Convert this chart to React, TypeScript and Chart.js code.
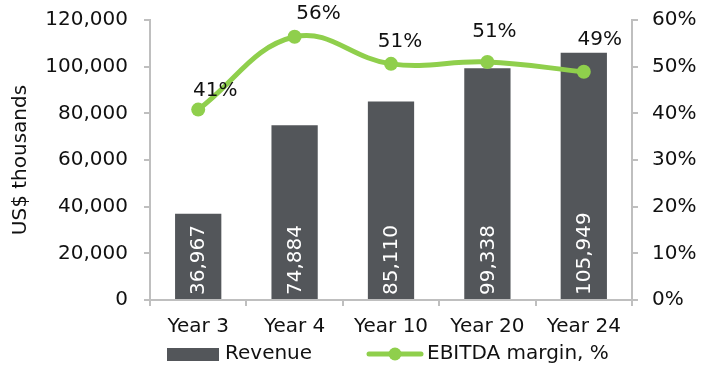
import React, { useEffect, useRef } from "react";
import { Chart, registerables } from "chart.js";

Chart.register(...registerables);

const categories = ["Year 3", "Year 4", "Year 10", "Year 20", "Year 24"];
const revenue = [36967, 74884, 85110, 99338, 105949];
const ebitdaMargin = [40.8, 56.4, 50.6, 51.0, 48.9];
const revenueTicks = [0, 20000, 40000, 60000, 80000, 100000, 120000];
const marginTicks = [0, 10, 20, 30, 40, 50, 60];

const FONT = "'DejaVu Sans', Verdana, sans-serif";
const SIZE = 20;
const BAR = "#53565a";
const GREEN = "#8fcf4c";
const AXIS = "#bfbfbf";
const TEXT = "#111111";

// hand-placed nudges (dx, dy) for the margin labels, relative to each point
const MARGIN_LABEL_NUDGE: [number, number][] = [
  [17, -19],
  [24, -23],
  [9, -22],
  [7, -30],
  [16, -32],
];

const labelsPlugin = {
  id: "valueLabels",
  afterDatasetsDraw(chart: any) {
    const ctx = chart.ctx;
    ctx.save();
    ctx.font = `${SIZE}px ${FONT}`;
    // revenue values, rotated inside each bar
    const barMeta = chart.getDatasetMeta(0);
    barMeta.data.forEach((el: any, i: number) => {
      ctx.save();
      ctx.translate(el.x, el.base - 4);
      ctx.rotate(-Math.PI / 2);
      ctx.fillStyle = "#ffffff";
      ctx.textAlign = "left";
      ctx.textBaseline = "middle";
      ctx.fillText(revenue[i].toLocaleString("en-US"), 0, 1);
      ctx.restore();
    });
    // margin labels above each point
    const lineMeta = chart.getDatasetMeta(1);
    lineMeta.data.forEach((el: any, i: number) => {
      const [dx, dy] = MARGIN_LABEL_NUDGE[i] || [15, -21];
      ctx.fillStyle = TEXT;
      ctx.textAlign = "center";
      ctx.textBaseline = "middle";
      ctx.fillText(`${Math.round(ebitdaMargin[i])}%`, el.x + dx, el.y + dy);
    });
    ctx.restore();
  },
};

const legendPlugin = {
  id: "bottomLegend",
  afterDraw(chart: any) {
    const ctx = chart.ctx;
    const y = 354;
    ctx.save();
    ctx.fillStyle = BAR;
    ctx.fillRect(167, y - 6, 52, 13);
    ctx.font = `${SIZE}px ${FONT}`;
    ctx.fillStyle = TEXT;
    ctx.textAlign = "left";
    ctx.textBaseline = "middle";
    ctx.fillText("Revenue", 225, y);
    ctx.strokeStyle = GREEN;
    ctx.lineWidth = 5;
    ctx.lineCap = "round";
    ctx.beginPath();
    ctx.moveTo(369, y);
    ctx.lineTo(421, y);
    ctx.stroke();
    ctx.fillStyle = GREEN;
    ctx.beginPath();
    ctx.arc(395, y, 6.5, 0, Math.PI * 2);
    ctx.fill();
    ctx.fillStyle = TEXT;
    ctx.fillText("EBITDA margin, %", 427, y);
    ctx.restore();
  },
};

export default function App() {
  const ref = useRef<HTMLCanvasElement>(null);

  useEffect(() => {
    document.body.style.margin = "0";
    const canvas = ref.current;
    if (!canvas) return;
    const chart = new Chart(canvas, {
      data: {
        labels: categories,
        datasets: [
          {
            type: "bar",
            label: "Revenue",
            data: revenue,
            backgroundColor: BAR,
            categoryPercentage: 1,
            barPercentage: 0.48,
            yAxisID: "y",
            order: 2,
          },
          {
            type: "line",
            label: "EBITDA margin, %",
            data: ebitdaMargin,
            borderColor: GREEN,
            backgroundColor: GREEN,
            borderWidth: 5,
            pointRadius: 7,
            pointHoverRadius: 7,
            pointBorderWidth: 0,
            tension: 0.4,
            yAxisID: "y1",
            order: 1,
          },
        ],
      } as any,
      options: {
        animation: false,
        responsive: false,
        maintainAspectRatio: false,
        layout: { autoPadding: false, padding: { top: 20, bottom: 25, left: 0, right: 0 } },
        plugins: {
          legend: { display: false },
          tooltip: { enabled: false },
        },
        scales: {
          x: {
            offset: true,
            grid: {
              offset: true,
              drawOnChartArea: false,
              drawTicks: true,
              tickLength: 6,
              color: AXIS,
              lineWidth: 2,
            },
            border: { color: AXIS, width: 2 },
            ticks: { color: TEXT, font: { family: FONT, size: SIZE }, padding: 9, maxRotation: 0 },
            afterFit: (s: any) => {
              s.height = 40;
            },
          },
          y: {
            position: "left",
            min: 0,
            max: 120000,
            afterBuildTicks: (s: any) => {
              s.ticks = revenueTicks.map((v) => ({ value: v }));
            },
            grid: { drawOnChartArea: false, tickLength: 6, color: AXIS, lineWidth: 2 },
            border: { color: AXIS, width: 2 },
            ticks: {
              color: TEXT,
              font: { family: FONT, size: SIZE },
              padding: 16,
              callback: (v: any) => Number(v).toLocaleString("en-US"),
            },
            title: {
              display: true,
              text: "US$ thousands",
              color: TEXT,
              font: { family: FONT, size: SIZE },
              padding: { top: 9, bottom: 0 },
            },
            afterFit: (s: any) => {
              s.width = 150;
              s.paddingTop = 0;
              s.paddingBottom = 0;
            },
          },
          y1: {
            position: "right",
            min: 0,
            max: 60,
            afterBuildTicks: (s: any) => {
              s.ticks = marginTicks.map((v) => ({ value: v }));
            },
            grid: { drawOnChartArea: false, tickLength: 6, color: AXIS, lineWidth: 2 },
            border: { color: AXIS, width: 2 },
            ticks: {
              color: TEXT,
              font: { family: FONT, size: SIZE },
              padding: 14,
              callback: (v: any) => `${v}%`,
            },
            afterFit: (s: any) => {
              s.width = 73;
              s.paddingTop = 0;
              s.paddingBottom = 0;
            },
          },
        },
      } as any,
      plugins: [labelsPlugin, legendPlugin],
    });
    return () => chart.destroy();
  }, []);

  return <canvas ref={ref} width={705} height={365} style={{ display: "block" }} />;
}
